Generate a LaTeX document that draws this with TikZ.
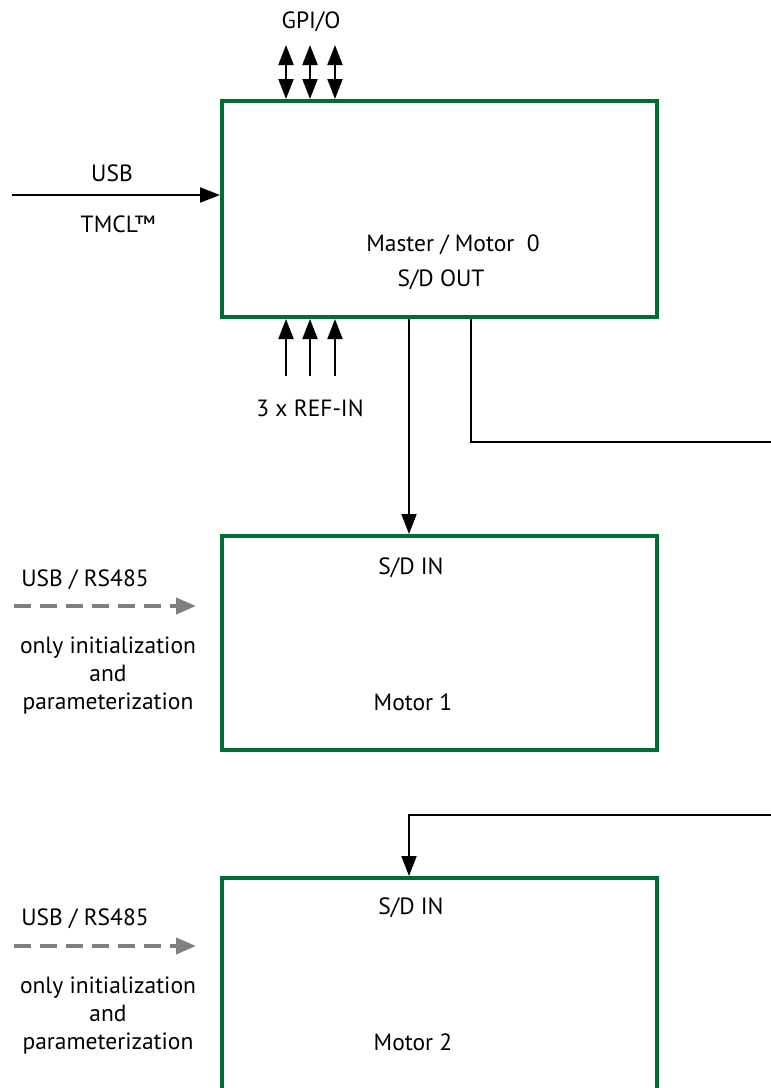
\documentclass[tikz,border=0pt]{standalone}
\usepackage{fontspec}
\setmainfont{PT Sans}
\usetikzlibrary{arrows.meta}
\definecolor{boxgreen}{RGB}{0,110,50}
\definecolor{dgray}{RGB}{128,128,128}
\tikzset{
  unit/.style={draw=boxgreen, line width=4pt, minimum width=435pt, inner sep=0pt, outer sep=0pt, anchor=north west},
  lbl/.style={font=\fontsize{23.5}{28}\selectfont, inner sep=0pt, anchor=center},
  sig/.style={line width=2pt, -{Triangle[width=15pt,length=20pt]}},
  bisig/.style={line width=2pt, {Triangle[width=15pt,length=20pt]}-{Triangle[width=15pt,length=20pt]}},
  init/.style={draw=dgray, line width=4pt, dash pattern=on 17pt off 9pt, -{Triangle[width=16pt,length=20pt]}}
}
\begin{document}
\begin{tikzpicture}[x=1pt,y=-1pt]
\useasboundingbox (0,0) rectangle (771,1088);
\clip (0,0) rectangle (771,1088);
% boxes
\node[unit, minimum height=216pt] (m0) at (222,101) {};
\node[unit, minimum height=214pt] (m1) at (222,536) {};
\node[unit, minimum height=260pt] (m2) at (222,878) {};
% GPI/O
\node[lbl] (gpio) at (311,22) {GPI/O};
\foreach \x/\n in {286/a,310/b,335/c} {
  \coordinate (g\n) at (\x,45);
  \coordinate (gb\n) at (\x,99);
  \draw[bisig] (g\n) -- (gb\n);
}
% USB master
\coordinate (usbs) at (12,195);
\coordinate (usbe) at (220,195);
\draw[sig] (usbs) -- (usbe);
\node[lbl] (usb) at (112,173) {USB};
\node[lbl] (tmcl) at (118,224) {TMCL™};
\node[lbl] (mtxt) at (453,245) {Master / Motor\ \ 0};
\node[lbl] (sdout) at (441,280) {S/D OUT};
% REF-IN
\foreach \x/\n in {286/a,310/b,335/c} {
  \coordinate (r\n) at (\x,376);
  \coordinate (rb\n) at (\x,319);
  \draw[sig] (r\n) -- (rb\n);
}
\node[lbl] (refin) at (310,408) {3 x REF-IN};
% master to motor 1
\coordinate (o1) at (409,319);
\coordinate (i1) at (409,534);
\draw[sig] (o1) -- (i1);
% master to right
\coordinate (o2) at (471,319);
\coordinate (rt) at (771,442);
\draw[line width=2pt] (o2) |- (rt);
% motor1 texts
\node[lbl] (sd1) at (411,568) {S/D IN};
\node[lbl] (mot1) at (413,702) {Motor 1};
\coordinate (d1s) at (14,606);
\coordinate (d1e) at (196,606);
\draw[init] (d1s) -- (d1e);
\node[lbl] (rs1) at (85,580) {USB / RS485};
\node[lbl, align=center] (ini1) at (108,676) {only initialization\\and\\parameterization};
% right to motor 2
\coordinate (rt2) at (771,815);
\coordinate (i2) at (409,876);
\draw[sig] (rt2) -| (i2);
\node[lbl] (sd2) at (411,908) {S/D IN};
\node[lbl] (mot2) at (413,1042) {Motor 2};
\coordinate (d2s) at (14,946);
\coordinate (d2e) at (196,946);
\draw[init] (d2s) -- (d2e);
\node[lbl] (rs2) at (85,919) {USB / RS485};
\node[lbl, align=center] (ini2) at (108,1016) {only initialization\\and\\parameterization};
\end{tikzpicture}
\end{document}
